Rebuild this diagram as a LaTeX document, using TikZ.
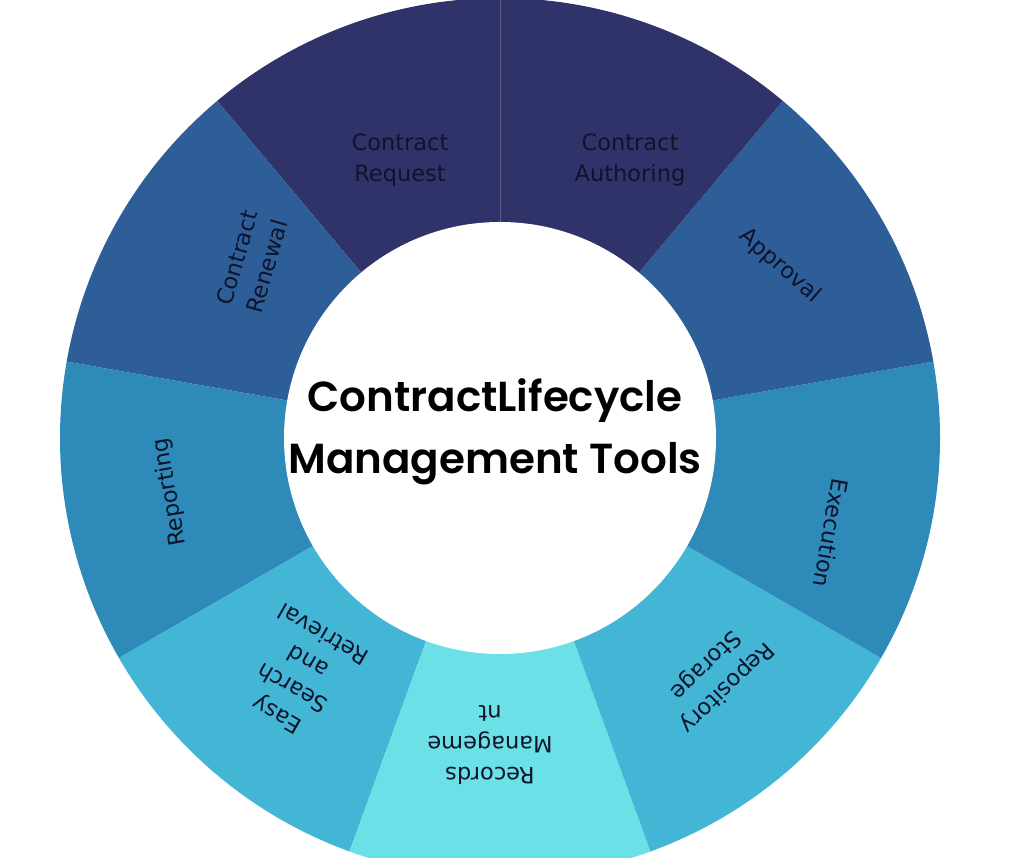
\documentclass[tikz,border=0pt]{standalone}
\usepackage{fontspec}
\setmainfont{DejaVu Sans}
\newfontfamily\titlefont{Poppins}[UprightFont=* SemiBold]
\definecolor{navyseg}{HTML}{30336A}
\definecolor{blueseg}{HTML}{2D5E98}
\definecolor{midseg}{HTML}{2E8AB9}
\definecolor{lightseg}{HTML}{43B5D5}
\definecolor{cyanseg}{HTML}{6BE1E7}
\definecolor{labelink}{HTML}{10132A}
\tikzset{
  seglabel/.style={text=labelink, align=center, inner sep=0pt,
    font=\fontsize{22.5}{31}\selectfont},
  hubtext/.style={align=center, inner sep=0pt, text=black,
    font=\titlefont\fontsize{42}{62}\selectfont},
}
\begin{document}
\begin{tikzpicture}[x=1pt,y=1pt]
\useasboundingbox (0,0) rectangle (1024,858);
\clip (0,0) rectangle (1024,858);
\fill[white] (0,0) rectangle (1024,858);
\coordinate (C) at (500,420);
% segments (sectors), 40 degrees each
\fill[navyseg]  (C) -- ++(90:440)  arc[start angle=90,  end angle=130, radius=440] -- cycle;
\fill[blueseg]  (C) -- ++(130:440) arc[start angle=130, end angle=170, radius=440] -- cycle;
\fill[midseg]   (C) -- ++(170:440) arc[start angle=170, end angle=210, radius=440] -- cycle;
\fill[lightseg] (C) -- ++(210:440) arc[start angle=210, end angle=250, radius=440] -- cycle;
\fill[cyanseg]  (C) -- ++(250:440) arc[start angle=250, end angle=290, radius=440] -- cycle;
\fill[lightseg] (C) -- ++(290:440) arc[start angle=290, end angle=330, radius=440] -- cycle;
\fill[midseg]   (C) -- ++(330:440) arc[start angle=330, end angle=370, radius=440] -- cycle;
\fill[blueseg]  (C) -- ++(10:440)  arc[start angle=10,  end angle=50,  radius=440] -- cycle;
\fill[navyseg]  (C) -- ++(50:440)  arc[start angle=50,  end angle=90,  radius=440] -- cycle;
\draw[navyseg!80!white, line width=0.7pt] (C) -- ++(90:440);
% hub
\node[circle, fill=white, minimum size=432pt, inner sep=0pt] (hub) at (C) {};
\node[hubtext] (title) at (495,426) {ContractLifecycle\\Management Tools};
% labels
\node[seglabel] (req)  at (400,698) {Contract\\Request};
\node[seglabel] (auth) at (630,698) {Contract\\Authoring};
\node[seglabel, rotate=-41] (appr) at (780,592) {Approval};
\node[seglabel, rotate=-100] (exec) at (831,325) {Execution};
\node[seglabel, rotate=-136] (repo) at (716,182) {Repository\\Storage};
\node[seglabel, rotate=180] (rec) at (490,113) {Records\\Manageme\\nt};
\node[seglabel, rotate=150] (easy) at (300,183) {Easy\\Search\\and\\Retrieval};
\node[seglabel, rotate=100] (rep) at (170,366) {Reporting};
\node[seglabel, rotate=74] (ren) at (252,596) {Contract\\Renewal};
\end{tikzpicture}
\end{document}
